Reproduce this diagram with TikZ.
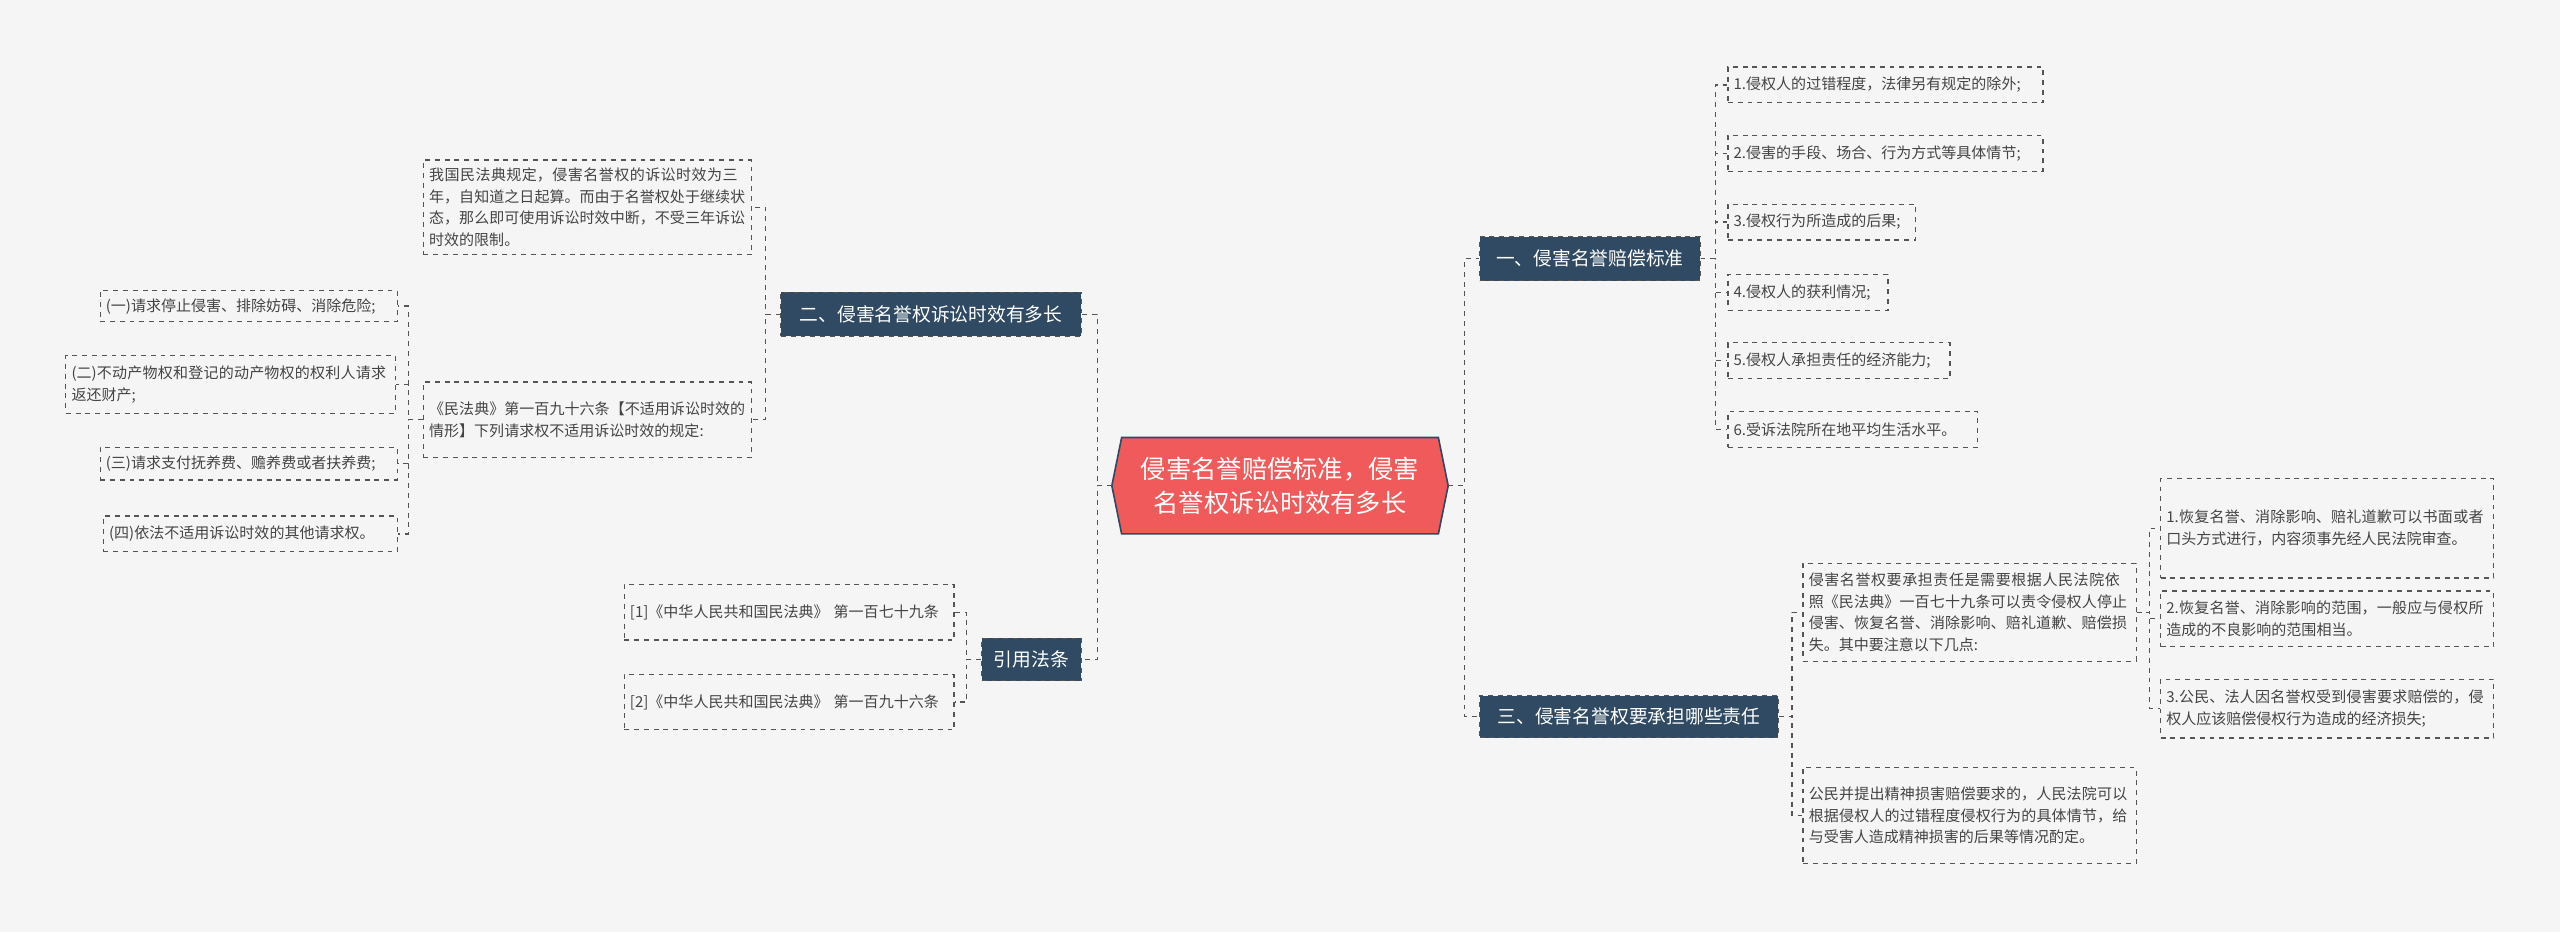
\documentclass[tikz,border=0pt]{standalone}
\usepackage{fontspec}
\setmainfont{Noto Sans CJK SC}
\XeTeXlinebreaklocale "zh"
\XeTeXlinebreakskip=0pt plus 1pt
\definecolor{bg}{HTML}{F5F5F5}
\definecolor{dk}{HTML}{2F4A62}
\definecolor{rd}{HTML}{F05A5A}
\definecolor{ln}{HTML}{555555}
\definecolor{tx}{HTML}{444444}
\begin{document}
\begin{tikzpicture}[x=1pt,y=-1pt,
 leaf/.style={draw=ln,dashed,line width=0.7pt,fill=bg,anchor=west,align=left,inner xsep=3.5pt,inner ysep=2pt,font=\fontsize{9.2}{13.3}\selectfont,text=tx},
 br/.style={fill=dk,draw=ln,dashed,line width=0.6pt,anchor=west,text=white,font=\fontsize{11.5}{13}\selectfont,inner xsep=4pt,inner ysep=0pt},
 conn/.style={draw=ln,dashed,line width=0.8pt}]
\fill[bg] (0,0) rectangle (1568,571);
% center
\fill[rd,draw=dk,line width=1pt] (687,268)--(881,268)--(887,297.5)--(881,327)--(687,327)--(681,297.5)--cycle;
\node[text=white,align=center,font=\fontsize{15.5}{21}\selectfont] (c) at (784,297.5) {侵害名誉赔偿标准，侵害\\名誉权诉讼时效有多长};
\coordinate (ce) at (887,297.5); \coordinate (cw) at (681,297.5);
% branches
\node[br,minimum width=135,minimum height=27] (b1) at (906,158.5) {一、侵害名誉赔偿标准};
\node[br,minimum width=183,minimum height=26] (b3) at (906,439) {三、侵害名誉权要承担哪些责任};
\node[br,minimum width=184,minimum height=27] (b2) at (478,192.5) {二、侵害名誉权诉讼时效有多长};
\node[br,minimum width=61,minimum height=26] (b4) at (601,404) {引用法条};
% right leaves of b1
\node[leaf,text width=186,minimum height=22] (l1) at (1058,52) {1.侵权人的过错程度，法律另有规定的除外;};
\node[leaf,text width=186,minimum height=22] (l2) at (1058,94) {2.侵害的手段、场合、行为方式等具体情节;};
\node[leaf,text width=108,minimum height=22] (l3) at (1058,136) {3.侵权行为所造成的后果;};
\node[leaf,text width=91,minimum height=22] (l4) at (1058,179) {4.侵权人的获利情况;};
\node[leaf,text width=129,minimum height=22] (l5) at (1058,221) {5.侵权人承担责任的经济能力;};
\node[leaf,text width=146,minimum height=22] (l6) at (1058,263) {6.受诉法院所在地平均生活水平。};
% b3 leaves
\node[leaf,text width=197,minimum height=60] (t1) at (1104,375) {侵害名誉权要承担责任是需要根据人民法院依照《民法典》一百七十九条可以责令侵权人停止侵害、恢复名誉、消除影响、赔礼道歉、赔偿损失。其中要注意以下几点:};
\node[leaf,text width=197,minimum height=59] (t2) at (1104,499.5) {公民并提出精神损害赔偿要求的，人民法院可以根据侵权人的过错程度侵权行为的具体情节，给与受害人造成精神损害的后果等情况酌定。};
\node[leaf,text width=197,minimum height=61] (s1) at (1323,323.5) {1.恢复名誉、消除影响、赔礼道歉可以书面或者口头方式进行，内容须事先经人民法院审查。};
\node[leaf,text width=197,minimum height=34] (s2) at (1323,379) {2.恢复名誉、消除影响的范围，一般应与侵权所造成的不良影响的范围相当。};
\node[leaf,text width=197,minimum height=36] (s3) at (1323,434) {3.公民、法人因名誉权受到侵害要求赔偿的，侵权人应该赔偿侵权行为造成的经济损失;};
% b2 leaves
\node[leaf,text width=194,minimum height=58] (a1) at (259,127) {我国民法典规定，侵害名誉权的诉讼时效为三年，自知道之日起算。而由于名誉权处于继续状态，那么即可使用诉讼时效中断，不受三年诉讼时效的限制。};
\node[leaf,text width=194,minimum height=46] (a2) at (259,257) {《民法典》第一百九十六条【不适用诉讼时效的情形】下列请求权不适用诉讼时效的规定:};
\node[leaf,text width=175,minimum height=19] (p1) at (61,187.5) {(一)请求停止侵害、排除妨碍、消除危险;};
\node[leaf,text width=195,minimum height=35] (p2) at (40,235.5) {(二)不动产物权和登记的动产物权的权利人请求返还财产;};
\node[leaf,text width=175,minimum height=20] (p3) at (61,284) {(三)请求支付抚养费、赡养费或者扶养费;};
\node[leaf,text width=173,minimum height=22] (p4) at (63,327) {(四)依法不适用诉讼时效的其他请求权。};
% b4 leaves
\node[leaf,text width=195,minimum height=34] (r1) at (382,375) {[1]《中华人民共和国民法典》 第一百七十九条};
\node[leaf,text width=195,minimum height=34] (r2) at (382,430) {[2]《中华人民共和国民法典》 第一百九十六条};
% connectors
\foreach \n in {b1,b3} \draw[conn] (ce) -- ++(10,0) |- (\n.west);
\foreach \n in {b2,b4} \draw[conn] (cw) -- ++(-9,0) |- (\n.east);
\foreach \n in {l1,l2,l3,l4,l5,l6} \draw[conn] (b1.east) -- ++(9,0) |- (\n.west);
\foreach \n in {t1,t2} \draw[conn] (b3.east) -- ++(8,0) |- (\n.west);
\foreach \n in {s1,s2,s3} \draw[conn] (t1.east) -- ++(8,0) |- (\n.west);
\foreach \n in {a1,a2} \draw[conn] (b2.west) -- ++(-9,0) |- (\n.east);
\foreach \n in {p1,p2,p3,p4} \draw[conn] (a2.west) -- ++(-9,0) |- (\n.east);
\foreach \n in {r1,r2} \draw[conn] (b4.west) -- ++(-9,0) |- (\n.east);
\end{tikzpicture}
\end{document}
